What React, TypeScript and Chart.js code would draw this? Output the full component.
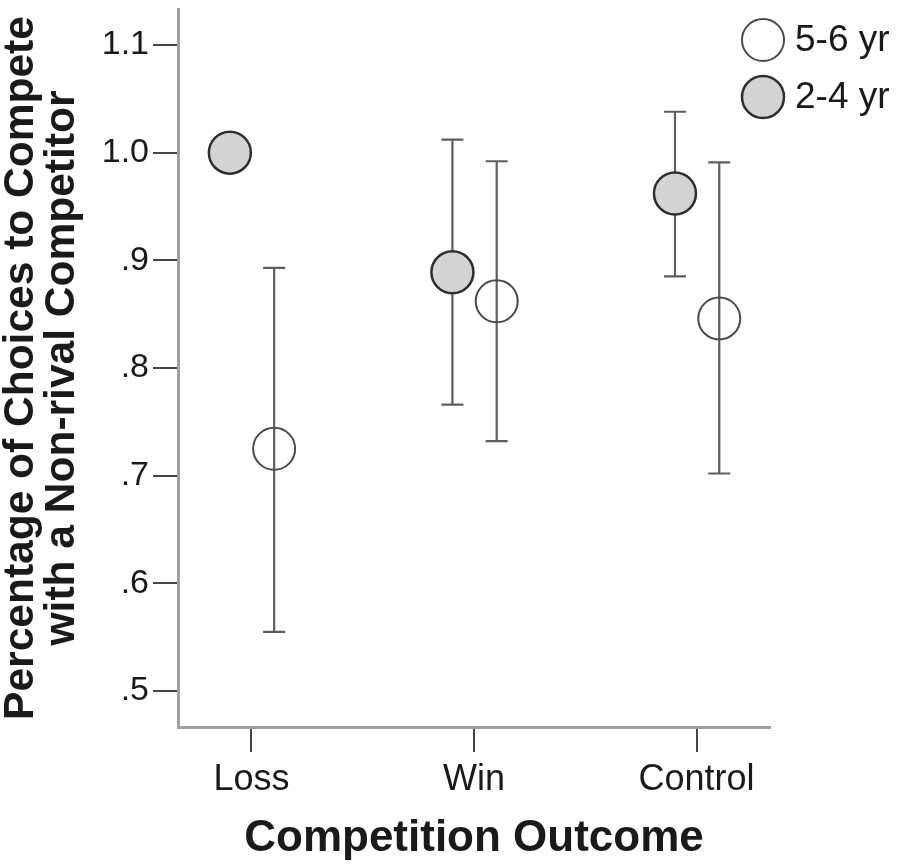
import { useEffect, useRef } from 'react'
import { Chart, registerables, type Plugin } from 'chart.js'

Chart.register(...registerables)

const CATEGORIES = ['Loss', 'Win', 'Control']
const GROUP_LABELS = ['5-6 yr', '2-4 yr']

// means with 95% CI bounds
const OLDER_MEAN = [0.725, 0.862, 0.846]
const OLDER_LOW = [0.555, 0.732, 0.702]
const OLDER_HIGH = [0.893, 0.992, 0.991]

const YOUNGER_MEAN = [1.0, 0.889, 0.962]
const YOUNGER_LOW = [1.0, 0.766, 0.885]
const YOUNGER_HIGH = [1.0, 1.012, 1.038]

const Y_TICKS = [0.5, 0.6, 0.7, 0.8, 0.9, 1.0, 1.1]

const FONT = "'Liberation Sans', Arial, Helvetica, sans-serif"
const TEXT = '#1a1a1a'
const AXIS = '#a0a0a0'
const TICK_MARK = '#444444'
const BAR = '#5e5e5e'
const GREY_FILL = '#d3d3d3'

const OLDER_SHIFT = 0.102
const YOUNGER_SHIFT = -0.097
const CAP = 11
const POINT_R = 21

const errorBars: Plugin<'scatter'> = {
  id: 'errorBars',
  beforeDatasetsDraw(chart) {
    const { ctx } = chart
    const x = chart.scales.x
    const y = chart.scales.y
    ctx.save()
    ctx.strokeStyle = BAR
    ctx.lineWidth = 2.2
    chart.data.datasets.forEach((ds: any) => {
      ds.data.forEach((p: any, i: number) => {
        const lo = ds.errLow[i]
        const hi = ds.errHigh[i]
        if (lo === hi) return
        const px = x.getPixelForValue(p.x)
        const yl = y.getPixelForValue(lo)
        const yh = y.getPixelForValue(hi)
        ctx.beginPath()
        ctx.moveTo(px, yl)
        ctx.lineTo(px, yh)
        ctx.moveTo(px - CAP, yl)
        ctx.lineTo(px + CAP, yl)
        ctx.moveTo(px - CAP, yh)
        ctx.lineTo(px + CAP, yh)
        ctx.stroke()
      })
    })
    ctx.restore()
  },
}

// legend in the top right corner, like the SPSS output
const cornerLegend: Plugin<'scatter'> = {
  id: 'cornerLegend',
  afterDraw(chart) {
    const { ctx } = chart
    ctx.save()
    chart.data.datasets.forEach((ds: any, i: number) => {
      const cx = 763
      const cy = 40 + i * 57
      ctx.beginPath()
      ctx.arc(cx, cy, POINT_R, 0, Math.PI * 2)
      ctx.fillStyle = ds.backgroundColor
      ctx.fill()
      ctx.lineWidth = ds.borderWidth
      ctx.strokeStyle = ds.borderColor
      ctx.stroke()
      ctx.fillStyle = TEXT
      ctx.font = `37px ${FONT}`
      ctx.textBaseline = 'middle'
      ctx.textAlign = 'left'
      ctx.fillText(ds.label, cx + 32, cy + 1)
    })
    ctx.restore()
  },
}

const fmtTick = (v: number) => {
  const s = v.toFixed(1)
  return s.startsWith('0') ? s.slice(1) : s
}

export default function App() {
  const canvasRef = useRef<HTMLCanvasElement>(null)

  useEffect(() => {
    document.body.style.margin = '0'
    const canvas = canvasRef.current
    if (!canvas) return
    Chart.getChart(canvas)?.destroy()

    const chart = new Chart(canvas, {
      type: 'scatter',
      data: {
        datasets: [
          {
            label: GROUP_LABELS[0],
            data: OLDER_MEAN.map((m, i) => ({ x: i + 1 + OLDER_SHIFT, y: m })),
            errLow: OLDER_LOW,
            errHigh: OLDER_HIGH,
            backgroundColor: 'rgba(255,255,255,0)',
            borderColor: '#4a4a4a',
            borderWidth: 2,
            pointRadius: POINT_R,
            pointHoverRadius: POINT_R,
          } as any,
          {
            label: GROUP_LABELS[1],
            data: YOUNGER_MEAN.map((m, i) => ({ x: i + 1 + YOUNGER_SHIFT, y: m })),
            errLow: YOUNGER_LOW,
            errHigh: YOUNGER_HIGH,
            backgroundColor: GREY_FILL,
            borderColor: '#2e2e2e',
            borderWidth: 2.5,
            pointRadius: POINT_R,
            pointHoverRadius: POINT_R,
          } as any,
        ],
      },
      options: {
        responsive: true,
        maintainAspectRatio: false,
        animation: false,
        layout: { autoPadding: false, padding: { top: 9, right: 130, left: 0, bottom: 0 } },
        plugins: {
          legend: { display: false },
          tooltip: { enabled: false },
        },
        scales: {
          x: {
            type: 'linear',
            min: 0.67,
            max: 3.33,
            afterBuildTicks: (s: any) => {
              s.ticks = CATEGORIES.map((_, i) => ({ value: i + 1 }))
            },
            afterFit: (s: any) => {
              s.height = 139
              s.paddingLeft = 0
              s.paddingRight = 0
            },
            border: { display: true, color: AXIS, width: 3 },
            grid: {
              drawOnChartArea: false,
              drawTicks: true,
              tickLength: 25,
              tickColor: TICK_MARK,
              tickWidth: 2,
              lineWidth: 2,
            },
            ticks: {
              color: TEXT,
              padding: 6,
              maxRotation: 0,
              autoSkip: false,
              font: { family: FONT, size: 36, lineHeight: 1.2 },
              callback: (v: any) => CATEGORIES[Number(v) - 1] ?? '',
            },
            title: {
              display: true,
              text: 'Competition Outcome',
              color: TEXT,
              padding: { top: 0, bottom: 5 },
              font: { family: FONT, size: 44, weight: 'bold', lineHeight: 1 },
            },
          },
          y: {
            type: 'linear',
            min: 0.4666,
            max: 1.1334,
            afterBuildTicks: (s: any) => {
              s.ticks = Y_TICKS.map((v) => ({ value: v }))
            },
            afterFit: (s: any) => {
              s.width = 178
              s.paddingTop = 0
              s.paddingBottom = 0
            },
            border: { display: true, color: AXIS, width: 3 },
            grid: {
              drawOnChartArea: false,
              drawTicks: true,
              tickLength: 25,
              tickColor: TICK_MARK,
              tickWidth: 2,
              lineWidth: 2,
            },
            ticks: {
              color: TEXT,
              padding: 4,
              autoSkip: false,
              font: { family: FONT, size: 34, lineHeight: 0.4 },
              callback: (v: any) => fmtTick(Number(v)),
            },
            title: {
              display: true,
              text: ['Percentage of Choices to Compete', 'with a Non-rival Competitor'],
              color: TEXT,
              padding: { top: 0, bottom: 0 },
              font: { family: FONT, size: 42.5, weight: 'bold', lineHeight: 0.98 },
            },
          },
        },
      },
      plugins: [errorBars, cornerLegend],
    })

    return () => {
      chart.destroy()
    }
  }, [])

  return (
    <div style={{ position: 'relative', width: 900, height: 866, background: '#fff' }}>
      <canvas ref={canvasRef} />
    </div>
  )
}
